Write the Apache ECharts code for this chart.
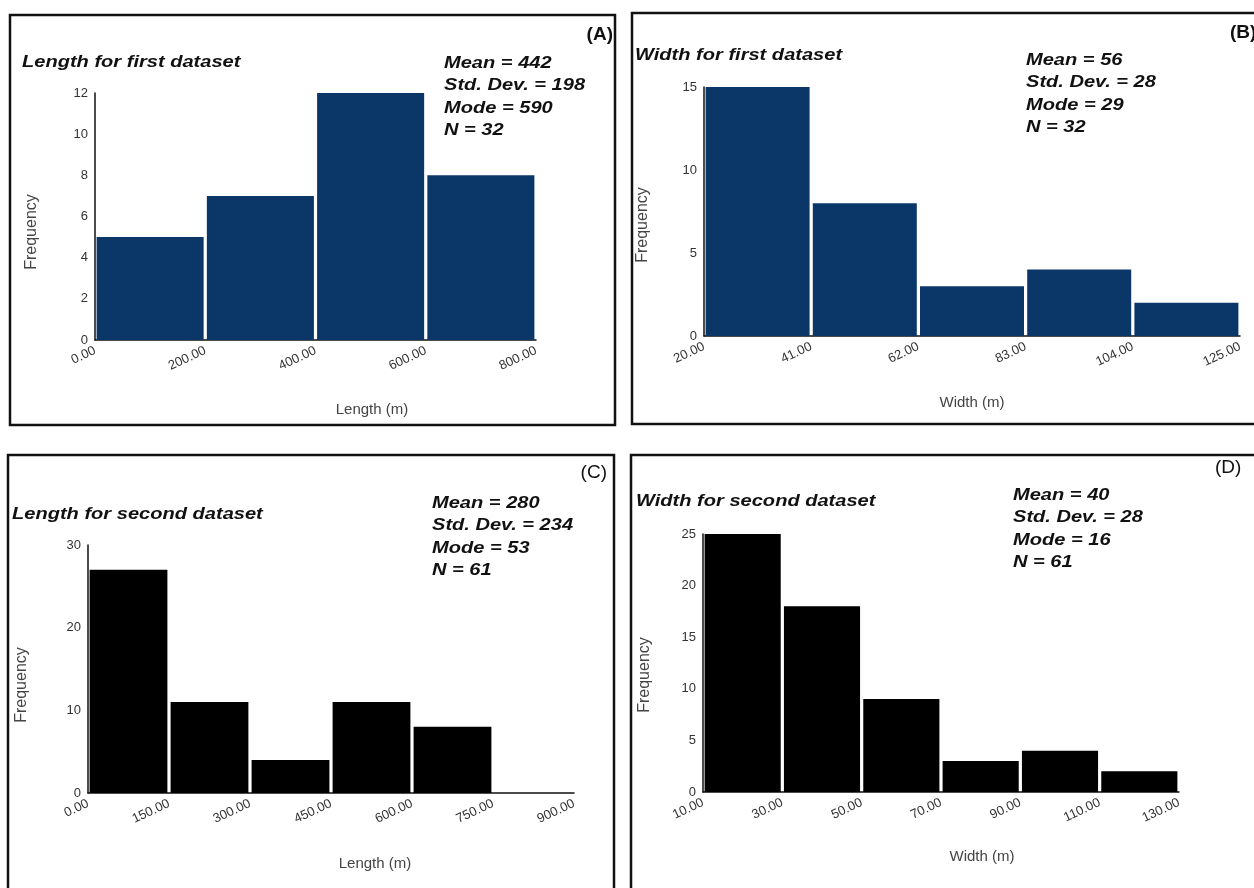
<!DOCTYPE html>
<html>
<head>
<meta charset="utf-8">
<title>Length and width histograms</title>
<script src="https://cdn.jsdelivr.net/npm/echarts@6/dist/echarts.min.js"></script>
<style>
  html, body { margin: 0; padding: 0; background: #ffffff; }
  #chart { width: 1254px; height: 888px; }
</style>
</head>
<body>
<div id="chart"></div>
<script>
// ---- Histogram data: bin edges and frequencies ----
const lengthFirstEdges = [0, 200, 400, 600, 800];
const lengthFirstCounts = [5, 7, 12, 8];

const widthFirstEdges = [20, 41, 62, 83, 104, 125];
const widthFirstCounts = [15, 8, 3, 4, 2];

const lengthSecondEdges = [0, 150, 300, 450, 600, 750, 900];
const lengthSecondCounts = [27, 11, 4, 11, 8, 0];

const widthSecondEdges = [10, 30, 50, 70, 90, 110, 130];
const widthSecondCounts = [25, 18, 9, 3, 4, 2];

// ---- Summary statistics ----
const lengthFirstStats = ['Mean = 442', 'Std. Dev. = 198', 'Mode = 590', 'N = 32'];
const widthFirstStats = ['Mean = 56', 'Std. Dev. = 28', 'Mode = 29', 'N = 32'];
const lengthSecondStats = ['Mean = 280', 'Std. Dev. = 234', 'Mode = 53', 'N = 61'];
const widthSecondStats = ['Mean = 40', 'Std. Dev. = 28', 'Mode = 16', 'N = 61'];

// ---- Frequency axis ranges ----
const freqMax = [12, 15, 30, 25];
const freqStep = [2, 5, 10, 5];

const FONT = '"Liberation Sans", Arial, Helvetica, sans-serif';
const NAVY = '#0b3768';
const BLACK = '#000000';
const HEAD_FONT = 'italic bold 17px ' + FONT;
const HEAD_SCALE = 1.18;

const panels = [
  {
    edges: lengthFirstEdges, counts: lengthFirstCounts, stats: lengthFirstStats, color: NAVY,
    grid: { left: 95, top: 93, width: 441, height: 247 },
    box: [10, 15, 605, 410],
    title: 'Length for first dataset', titlePos: [22, 62],
    statsPos: [444, 52],
    tag: '(A)', tagPos: [613, 35], tagAlign: 'right', tagBold: true,
    xName: 'Length (m)', xNamePos: [372, 410],
    yNamePos: [32, 232]
  },
  {
    edges: widthFirstEdges, counts: widthFirstCounts, stats: widthFirstStats, color: NAVY,
    grid: { left: 704, top: 87, width: 536, height: 249 },
    box: [632, 13, 640, 411],
    title: 'Width for first dataset', titlePos: [635, 55],
    statsPos: [1026, 49],
    tag: '(B)', tagPos: [1230, 33], tagAlign: 'left', tagBold: true,
    xName: 'Width (m)', xNamePos: [972, 403],
    yNamePos: [643, 225]
  },
  {
    edges: lengthSecondEdges, counts: lengthSecondCounts, stats: lengthSecondStats, color: BLACK,
    grid: { left: 88, top: 545, width: 486, height: 248 },
    box: [8, 455, 606, 450],
    title: 'Length for second dataset', titlePos: [12, 514],
    statsPos: [432, 492],
    tag: '(C)', tagPos: [607, 473], tagAlign: 'right', tagBold: false,
    xName: 'Length (m)', xNamePos: [375, 864],
    yNamePos: [22, 685]
  },
  {
    edges: widthSecondEdges, counts: widthSecondCounts, stats: widthSecondStats, color: BLACK,
    grid: { left: 703, top: 534, width: 476, height: 258 },
    box: [631, 455, 640, 450],
    title: 'Width for second dataset', titlePos: [636, 501],
    statsPos: [1013, 484],
    tag: '(D)', tagPos: [1215, 468], tagAlign: 'left', tagBold: false,
    xName: 'Width (m)', xNamePos: [982, 857],
    yNamePos: [645, 675]
  }
];

// Each bin becomes [start, end, count]
function binsOf(edges, counts) {
  return counts.map((c, i) => [edges[i], edges[i + 1], c]);
}

function histRenderer(color) {
  return function (params, api) {
    const start = api.coord([api.value(0), 0]);
    const end = api.coord([api.value(1), api.value(2)]);
    const gap = 1.6;
    const h = start[1] - end[1];
    if (h <= 0) return null;
    return {
      type: 'rect',
      shape: { x: start[0] + gap, y: end[1], width: end[0] - start[0] - 2 * gap, height: h },
      style: { fill: color }
    };
  };
}

const grids = [], xAxes = [], yAxes = [], series = [], graphics = [];

panels.forEach((p, i) => {
  grids.push(Object.assign({}, p.grid));
  xAxes.push({
    type: 'value', gridIndex: i,
    min: p.edges[0], max: p.edges[p.edges.length - 1],
    axisLine: { show: true, onZero: false, lineStyle: { color: '#111', width: 1.5 } },
    axisTick: { show: false },
    splitLine: { show: false },
    axisLabel: {
      customValues: p.edges,
      rotate: 25, margin: 10,
      color: '#333', fontSize: 13, fontFamily: FONT,
      formatter: v => Number(v).toFixed(2)
    }
  });
  yAxes.push({
    type: 'value', gridIndex: i,
    min: 0, max: freqMax[i], interval: freqStep[i],
    axisLine: { show: true, lineStyle: { color: '#111', width: 1.5 } },
    axisTick: { show: false },
    splitLine: { show: false },
    axisLabel: { color: '#333', fontSize: 13, fontFamily: FONT, margin: 7 }
  });
  series.push({
    type: 'custom', xAxisIndex: i, yAxisIndex: i,
    renderItem: histRenderer(p.color),
    encode: { x: [0, 1], y: 2 },
    data: binsOf(p.edges, p.counts),
    silent: true, z: 1
  });

  // Panel frame
  graphics.push({
    type: 'rect', z: 10,
    shape: { x: p.box[0], y: p.box[1], width: p.box[2], height: p.box[3] },
    style: { fill: 'none', stroke: '#111', lineWidth: 2.5 }
  });
  // Panel title
  graphics.push({
    type: 'text', x: p.titlePos[0], y: p.titlePos[1], scaleX: HEAD_SCALE, z: 10,
    style: {
      text: p.title, fill: '#111', font: HEAD_FONT,
      textAlign: 'left', textVerticalAlign: 'middle'
    }
  });
  // Summary statistics block
  graphics.push({
    type: 'text', x: p.statsPos[0], y: p.statsPos[1], scaleX: HEAD_SCALE, z: 10,
    style: {
      text: p.stats.join('\n'), fill: '#111', font: HEAD_FONT,
      lineHeight: 22.5, textAlign: 'left', textVerticalAlign: 'top'
    }
  });
  // Panel tag
  graphics.push({
    type: 'text', x: p.tagPos[0], y: p.tagPos[1], z: 10,
    style: {
      text: p.tag, fill: '#111',
      font: (p.tagBold ? 'bold ' : '') + '19px ' + FONT,
      textAlign: p.tagAlign, textVerticalAlign: 'middle'
    }
  });
  // Axis names
  graphics.push({
    type: 'text', x: p.xNamePos[0], y: p.xNamePos[1], z: 10,
    style: {
      text: p.xName, fill: '#444', font: '15px ' + FONT,
      textAlign: 'center', textVerticalAlign: 'middle'
    }
  });
  graphics.push({
    type: 'text', x: p.yNamePos[0], y: p.yNamePos[1], rotation: Math.PI / 2, z: 10,
    style: {
      text: 'Frequency', fill: '#444', font: '16px ' + FONT,
      textAlign: 'center', textVerticalAlign: 'middle'
    }
  });
});

const chart = echarts.init(document.getElementById('chart'), null, { renderer: 'canvas' });
chart.setOption({
  backgroundColor: '#ffffff',
  animation: false,
  grid: grids,
  xAxis: xAxes,
  yAxis: yAxes,
  series: series,
  graphic: { elements: graphics }
});
</script>
</body>
</html>
